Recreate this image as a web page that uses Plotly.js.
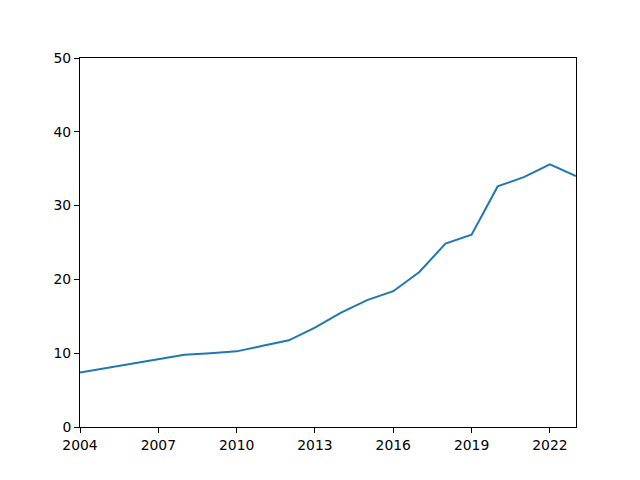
<!DOCTYPE html>
<html>
<head>
<meta charset="utf-8">
<script src="https://cdn.plot.ly/plotly-3.0.1.min.js"></script>
<style>
  html, body { margin: 0; padding: 0; background: #fff; }
  #chart { width: 640px; height: 480px; }
</style>
</head>
<body>
<div id="chart"></div>
<script>
// years and values
const years = [2004, 2005, 2006, 2007, 2008, 2009, 2010, 2011, 2012, 2013,
               2014, 2015, 2016, 2017, 2018, 2019, 2020, 2021, 2022, 2023];
const values = [7.4, 8.0, 8.5, 9.1, 9.8, 10.0, 10.25, 11.0, 11.75, 13.45,
                15.5, 17.2, 18.4, 21.0, 24.85, 26.05, 32.6, 33.85, 35.6, 34.0];
const xTicks = [2004, 2007, 2010, 2013, 2016, 2019, 2022];
const yTicks = [0, 10, 20, 30, 40, 50];

const axisStyle = {
  showgrid: false,
  zeroline: false,
  showline: true,
  linecolor: '#000',
  linewidth: 1,
  mirror: true,
  ticks: 'outside',
  ticklen: 5,
  tickwidth: 1,
  tickcolor: '#000',
  tickfont: { family: 'DejaVu Sans', size: 13.9, color: '#000' }
};

const trace = {
  x: years,
  y: values,
  type: 'scatter',
  mode: 'lines',
  line: { color: '#1f77b4', width: 2 },
  hoverinfo: 'skip'
};

const layout = {
  width: 640,
  height: 480,
  margin: { l: 80, r: 64, t: 58, b: 53 },
  paper_bgcolor: '#fff',
  plot_bgcolor: '#fff',
  showlegend: false,
  xaxis: Object.assign({}, axisStyle, {
    range: [2004, 2023],
    tickvals: xTicks,
    ticktext: xTicks.map(String)
  }),
  yaxis: Object.assign({}, axisStyle, {
    range: [0, 50],
    tickvals: yTicks,
    ticktext: yTicks.map(String)
  })
};

Plotly.newPlot('chart', [trace], layout, { displayModeBar: false, staticPlot: true });
</script>
</body>
</html>
